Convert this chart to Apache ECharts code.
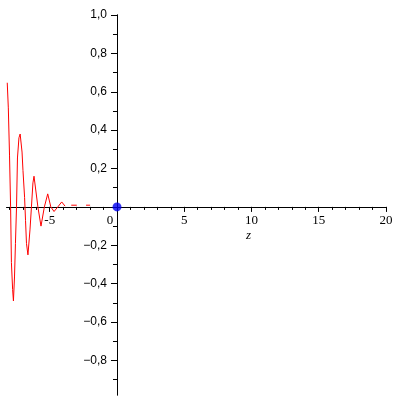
<!DOCTYPE html>
<html><head><meta charset="utf-8">
<script src="https://cdn.jsdelivr.net/npm/echarts@6/dist/echarts.min.js"></script>
<style>html,body{margin:0;padding:0;background:#fff}#c{width:400px;height:400px}</style>
</head><body><div id="c"></div>
<script>
// curve samples (z, value)
const zVals = [-8.16,-8.08,-7.99,-7.91,-7.85,-7.76,-7.70,-7.62,-7.55,-7.47,-7.40,-7.29,-7.20,-7.06,-6.99,-6.87,-6.80,-6.73,-6.62,-6.47,-6.36,-6.25,-6.17,-6.11,-5.88,-5.65,-5.40,-5.15,-4.92,-4.68,-4.40,-4.11,-3.86,null,-3.40,-2.99,null,-2.30,-2.00];
const yVals = [0.647,0.516,0.27,0.0,-0.29,-0.43,-0.49,-0.365,-0.19,0.0,0.255,0.36,0.38,0.286,0.19,0.05,-0.07,-0.19,-0.25,-0.12,0.0,0.125,0.16,0.17,0.0,-0.10,0.0,0.068,0.0,-0.024,0.0,0.026,0.004,null,0.009,0.009,null,0.009,0.009];
const pointZ = [0];
const pointY = [0];
const xMajorTicks = [-5,0,5,10,15,20];
const xMinorTicks = [-8,-7,-6,-5,-4,-3,-2,-1,0,1,2,3,4,5,6,7,8,9,10,11,12,13,14,15,16,17,18,19,20];
const yMajorTicks = [-0.8,-0.6,-0.4,-0.2,0.2,0.4,0.6,0.8,1.0];
const yMinorTicks = [-0.9,-0.8,-0.7,-0.6,-0.5,-0.4,-0.3,-0.2,-0.1,0.1,0.2,0.3,0.4,0.5,0.6,0.7,0.8,0.9,1.0];

const curve = zVals.map((z,i)=> z===null ? [null,null] : [z, yVals[i]]);
const pts = pointZ.map((z,i)=>[z, pointY[i]]);

const XMIN=-8.2, XMAX=20, YMIN=-0.98, YMAX=1.0;
const G = {left:6.7, right:14, top:15, bottom:5};
const W = 400, H = 400;
// distance from grid edge to the zero line of the other axis (axes sit on the zero lines)
const xZeroFromBottom = (H - G.top - G.bottom) * (0 - YMIN) / (YMAX - YMIN);
const yZeroFromLeft = (W - G.left - G.right) * (0 - XMIN) / (XMAX - XMIN);
const black = '#000';
const chart = echarts.init(document.getElementById('c'), null, {renderer:'canvas'});
const xBase = {type:'value', position:'bottom', min:XMIN, max:XMAX, splitLine:{show:false}, offset:-xZeroFromBottom,
  axisLine:{onZero:false, lineStyle:{color:black,width:1}}};
const yBase = {type:'value', position:'left', min:YMIN, max:YMAX, splitLine:{show:false}, offset:-yZeroFromLeft,
  axisLine:{onZero:false, lineStyle:{color:black,width:1}}};
chart.setOption({
  animation:false,
  grid:Object.assign({containLabel:false, outerBoundsMode:'none'}, G),
  xAxis:[
    Object.assign({}, xBase, {
      axisTick:{show:true, inside:false, length:5, customValues:xMajorTicks, lineStyle:{color:black}},
      axisLabel:{show:true, customValues:xMajorTicks, margin:7, color:black,
        fontFamily:'Liberation Serif', fontSize:13,
        formatter:v=> v===0 ? '{z|0}' : String(v),
        rich:{z:{padding:[0,14,0,0], fontFamily:'Liberation Serif', fontSize:13, color:black}}}
    }),
    Object.assign({}, xBase, {
      axisTick:{show:true, inside:false, length:3, customValues:xMinorTicks, lineStyle:{color:black}},
      axisLabel:{show:false}
    })
  ],
  yAxis:[
    Object.assign({}, yBase, {
      axisTick:{show:true, inside:false, length:6, customValues:yMajorTicks, lineStyle:{color:black}},
      axisLabel:{show:true, customValues:yMajorTicks, margin:10, color:black,
        fontFamily:'Liberation Sans', fontSize:12,
        formatter:v=> v.toFixed(1).replace('.',',').replace('-','\u2212')}
    }),
    Object.assign({}, yBase, {
      axisTick:{show:true, inside:false, length:4, customValues:yMinorTicks, lineStyle:{color:black}},
      axisLabel:{show:false}
    })
  ],
  graphic:[{type:'text', left:246, top:229, style:{text:'z', font:'italic 13px "Liberation Serif"', fill:black}}],
  series:[
    {type:'line', xAxisIndex:0, yAxisIndex:0, data:curve, showSymbol:false, smooth:false, connectNulls:false,
      lineStyle:{color:'#ff0000', width:1}, itemStyle:{color:'#ff0000'}, z:3},
    {type:'scatter', xAxisIndex:0, yAxisIndex:0, data:pts, symbol:'circle', symbolSize:9,
      itemStyle:{color:'#0000f0'}, z:4},
    {type:'line', xAxisIndex:1, yAxisIndex:1, data:[], silent:true}
  ]
});
</script></body></html>
